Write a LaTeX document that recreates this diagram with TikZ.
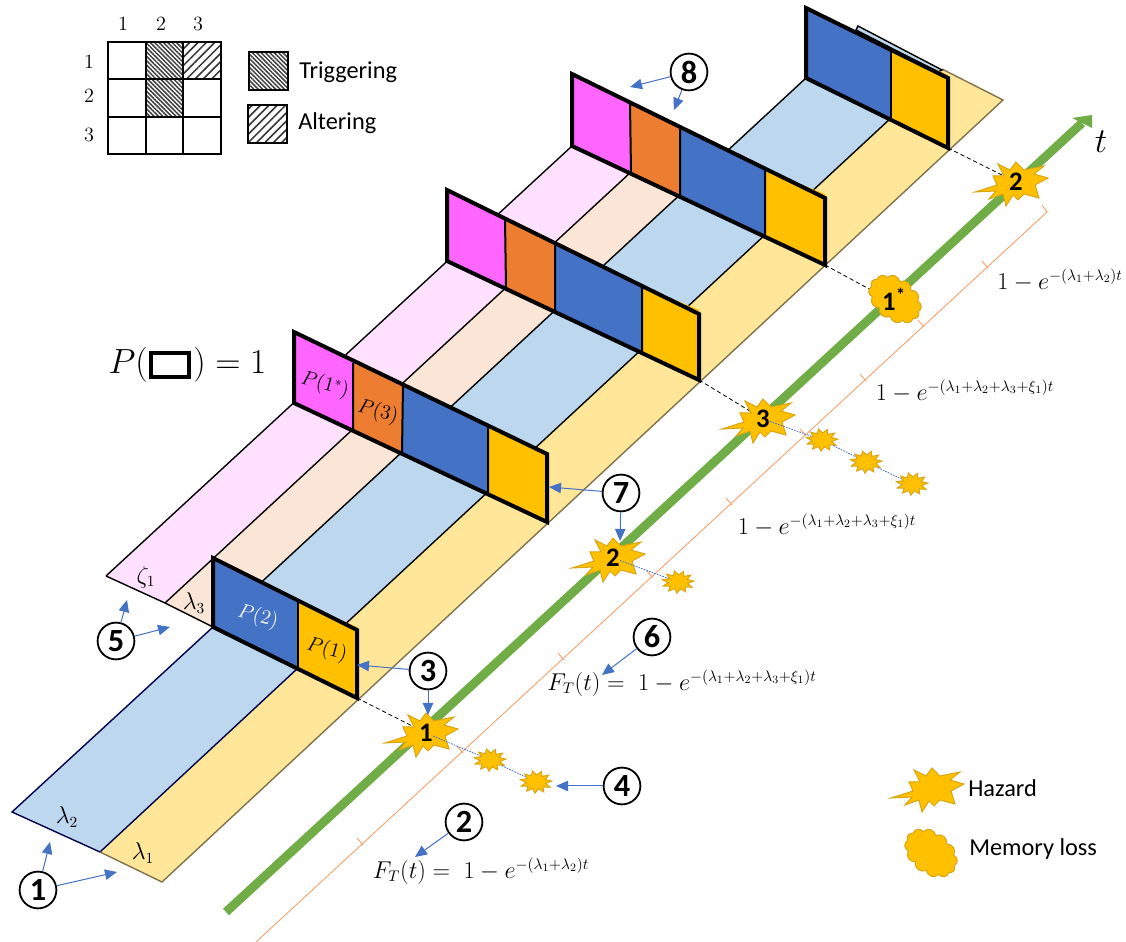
\documentclass[tikz,border=0pt]{standalone}
\usepackage{fontspec}
\setmainfont{Carlito}
\usetikzlibrary{arrows.meta,patterns.meta,shapes.geometric,shapes.symbols}

% colours of the floor bands and of the walls
\definecolor{floorblue}{HTML}{BDD7EE}
\definecolor{flooryellow}{HTML}{FFE699}
\definecolor{floorpink}{HTML}{FFE1FF}
\definecolor{floororange}{HTML}{FBE5D6}
\definecolor{wallblue}{HTML}{4472C4}
\definecolor{wallyellow}{HTML}{FFC000}
\definecolor{wallpink}{HTML}{FF66FF}
\definecolor{wallorange}{HTML}{ED7D31}
\definecolor{axisgreen}{HTML}{70AD47}
\definecolor{bracketorange}{HTML}{F4A878}
\definecolor{hazardedge}{HTML}{D9A514}

\tikzset{
  frameline/.style={line width=1mm, line join=miter},
  divline/.style={line width=0.5mm},
  bandline/.style={line width=0.35mm},
  pointer/.style={draw=wallblue, line width=0.25mm, -{Triangle[length=3mm,width=2.6mm,fill=wallblue]}},
  badge/.style={circle, draw, line width=0.45mm, fill=white, minimum size=9.2mm, inner sep=0pt, font=\fontsize{23}{23}\selectfont\bfseries},
  spark/.style={star, star points=11, star point ratio=1.6, draw=hazardedge, fill=wallyellow, line width=0.25mm, minimum size=6.6mm, inner sep=0pt, xscale=1.2, yscale=0.85, rotate=-20},
  lossline/.style={draw=wallblue, line width=0.2mm, dash pattern=on 1.2pt off 0.8pt},
  timeline/.style={draw=black, line width=0.2mm, dash pattern=on 3pt off 2pt},
  hazardnum/.style={font=\fontsize{19}{19}\selectfont\bfseries, inner sep=0pt},
  hazard/.pic={
    \filldraw[draw=hazardedge, fill=wallyellow, line width=0.25mm]
      (-41,10) -- (-19,3) -- (-23,-6) -- (-12,-6) -- (-18,-18) -- (-6,-12) -- (0,-20) -- (8,-12)
      -- (28,-16) -- (18,-8) -- (32,-4) -- (19,3) -- (23,16) -- (8,12) -- (2,18) -- (-3,13)
      -- (-10,24) -- (-13,12) -- (-27,17) -- (-20,9) -- cycle;
  },
  memcloud/.style={cloud, cloud puffs=12, cloud puff arc=125, aspect=1.6, draw=hazardedge, fill=wallyellow, line width=0.25mm, minimum width=14.5mm, minimum height=10.5mm, inner sep=0pt, rotate=-38},
  mathlabel/.style={font=\fontsize{16}{18}\selectfont, inner sep=0pt},
  celllabel/.style={font=\fontsize{14.5}{16}\selectfont, inner sep=0pt, rotate=-15},
  gridlabel/.style={font=\fontsize{15}{15}\selectfont, inner sep=0pt},
  legendlabel/.style={font=\fontsize{17.3}{17}\selectfont, anchor=west, inner sep=0pt},
  trighatch/.style={pattern={Lines[angle=-45,distance=2.2pt,line width=1.1pt]}, pattern color=black!75},
  althatch/.style={pattern={Lines[angle=45,distance=4.2pt,line width=1.1pt]}, pattern color=black!80},
}

\begin{document}
\begin{tikzpicture}[x=0.25mm, y=-0.25mm]
  \useasboundingbox (0,0) rectangle (1126,942);

  % floor bands
  \fill[floorpink] (106,576) -- (165,603) -- (631,172) -- (572,146) -- cycle;
  \fill[floororange] (165,603) -- (213,627) -- (680,195) -- (631,172) -- cycle;
  \fill[floorblue] (12,812) -- (100,852) -- (891,118) -- (806,78) -- cycle;
  \fill[flooryellow] (100,852) -- (162,882) -- (1003,100) -- (942,69) -- (891,118) -- cycle;

  % band edges
  \draw[bandline] (106,576) -- (572,146);
  \draw[bandline] (106,576) -- (165,603) -- (213,627);
  \draw[bandline] (165,603) -- (631,172);
  \draw[bandline] (213,627) -- (806,78);
  \draw[bandline] (298,668) -- (891,118);
  \draw[bandline, draw=blue!30!black] (213,627) -- (12,812) -- (100,852) -- (298,668);
  \draw[bandline, draw=flooryellow!50!black] (100,852) -- (162,882) -- (1003,100) -- (942,69);

  % time axis
  \draw[axisgreen, line width=2.2mm] (226,912) -- (1082,123);
  \fill[axisgreen] (1072,118) -- (1092,115) -- (1092,128) -- cycle;

  % bracket line and its ticks
  \draw[bracketorange, line width=0.25mm] (256,942) -- (1047,212) -- (1042,205);
  \foreach \tx/\ty in {362/844,462/752,563/659,652/577,731/504,805/435,865/380,923/326,987/267} {
    \draw[bracketorange, line width=0.25mm] (\tx-5,\ty-6) -- (\tx+1,\ty+1);
  }

  % wall at the far end, with the strip behind it
  \filldraw[fill=floorblue, bandline] (856,30) -- (858,26) -- (942,70) -- (938,72) -- cycle;
  \fill[wallblue] (806,8) -- (891,50) -- (891,118) -- (806,78) -- cycle;
  \fill[wallyellow] (891,50) -- (948,75) -- (948,148) -- (891,118) -- cycle;
  \draw[divline] (891,50) -- (891,118);
  \draw[frameline] (806,8) -- (948,78) -- (948,148) -- (806,78) -- cycle;

  % wall 4
  \fill[wallpink] (572,74) -- (630,103) -- (631,172) -- (572,146) -- cycle;
  \fill[wallorange] (630,103) -- (680,128) -- (680,195) -- (631,172) -- cycle;
  \fill[wallblue] (680,128) -- (765,170) -- (765,236) -- (680,195) -- cycle;
  \fill[wallyellow] (765,170) -- (825,194) -- (825,265) -- (765,236) -- cycle;
  \draw[divline] (630,103) -- (631,172) (680,128) -- (680,195) (765,170) -- (765,236);
  \draw[frameline] (572,74) -- (825,198) -- (825,265) -- (572,146) -- cycle;

  % wall 3
  \fill[wallpink] (447,190) -- (505,220) -- (506,287) -- (447,261) -- cycle;
  \fill[wallorange] (505,220) -- (555,242) -- (555,312) -- (506,287) -- cycle;
  \fill[wallblue] (555,242) -- (642,286) -- (642,352) -- (555,312) -- cycle;
  \fill[wallyellow] (642,286) -- (699,310) -- (699,380) -- (642,352) -- cycle;
  \draw[divline] (505,220) -- (506,287) (555,242) -- (555,312) (642,286) -- (642,352);
  \draw[frameline] (447,190) -- (699,314) -- (699,380) -- (447,261) -- cycle;

  % wall 2
  \fill[wallpink] (294,332) -- (353,363) -- (353,429) -- (294,403) -- cycle;
  \fill[wallorange] (353,363) -- (403,385) -- (402,453) -- (353,429) -- cycle;
  \fill[wallblue] (403,385) -- (488,427) -- (488,494) -- (402,453) -- cycle;
  \fill[wallyellow] (488,427) -- (547,452) -- (547,522) -- (488,494) -- cycle;
  \draw[divline] (353,363) -- (353,429) (403,385) -- (402,453) (488,427) -- (488,494);
  \draw[frameline] (294,332) -- (547,454) -- (547,522) -- (294,403) -- cycle;

  % wall 1
  \fill[wallblue] (213,558) -- (298,602) -- (298,668) -- (213,627) -- cycle;
  \fill[wallyellow] (298,602) -- (357,627) -- (357,698) -- (298,668) -- cycle;
  \draw[divline] (298,602) -- (298,668);
  \draw[frameline] (213,558) -- (357,630) -- (357,698) -- (213,627) -- cycle;

  % hazards on the axis
  \coordinate (wall1end) at (357,698);
  \coordinate (wall3end) at (699,380);
  \coordinate (wall4end) at (825,265);
  \coordinate (wall5end) at (948,148);
  \draw[timeline] (wall1end) -- (426,733);
  \draw[timeline] (wall3end) -- (763,419);
  \draw[timeline] (wall4end) -- (893,302);
  \draw[timeline] (wall5end) -- (1016,182);

  \node[spark] (lossa) at (490,760) {};
  \node[spark] (lossb) at (536,782) {};
  \node[spark] (lossc) at (678,582) {};
  \node[spark] (lossd) at (822,440) {};
  \node[spark] (losse) at (866,462) {};
  \node[spark] (lossf) at (912,484) {};

  \pic at (426,733) {hazard};
  \pic at (613,558) {hazard};
  \pic at (763,419) {hazard};
  \pic at (1016,182) {hazard};
  \node[hazardnum] (hazarda) at (426,733) {1};
  \node[hazardnum] (hazardb) at (613,558) {2};
  \node[hazardnum] (hazardc) at (763,419) {3};
  \node[hazardnum] (hazarde) at (1016,182) {2};
  \node[memcloud] (memory) at (895,299) {};
  \node[hazardnum] (hazardd) at (894,299) {1\textsuperscript{*}};

  \draw[lossline] (hazarda) -- (lossa) -- (lossb);
  \draw[lossline] (hazardb) -- (lossc);
  \draw[lossline] (hazardc) -- (lossd) -- (losse) -- (lossf);

  % labels on the walls and on the floor
  \node[celllabel, text=white] (ptwo) at (258,617) {$P(2)$};
  \node[celllabel] (pone) at (327,650) {$P(1)$};
  \node[celllabel] (ponestar) at (325,385) {$P(1^{*})$};
  \node[celllabel] (pthree) at (378,412) {$P(3)$};
  \node[mathlabel] (zetaone) at (146,577) {$\zeta_1$};
  \node[mathlabel] (lamthree) at (194,603) {$\lambda_3$};
  \node[mathlabel] (lamtwo) at (67,817) {$\lambda_2$};
  \node[mathlabel] (lamone) at (143,853) {$\lambda_1$};

  % formulas
  \node[mathlabel] (forma) at (481,871) {$F_T(t)=\;1-e^{-(\lambda_1+\lambda_2)t}$};
  \node[mathlabel] (formb) at (682,683) {$F_T(t)=\;1-e^{-(\lambda_1+\lambda_2+\lambda_3+\xi_1)t}$};
  \node[mathlabel] (formc) at (827,525) {$1-e^{-(\lambda_1+\lambda_2+\lambda_3+\xi_1)t}$};
  \node[mathlabel] (formd) at (965,391) {$1-e^{-(\lambda_1+\lambda_2+\lambda_3+\xi_1)t}$};
  \node[mathlabel] (forme) at (1060,280) {$1-e^{-(\lambda_1+\lambda_2)t}$};
  \node[inner sep=0pt, font=\fontsize{26}{26}\selectfont] (tlabel) at (1101,142) {$t$};

  % P(box) = 1
  \node[anchor=east, inner sep=0pt, font=\fontsize{25}{25}\selectfont] (plabel) at (148,365) {$P($};
  \node[draw, line width=1mm, minimum width=9.5mm, minimum height=6mm, inner sep=0pt] (pbox) at (170,365) {};
  \node[anchor=west, inner sep=0pt, font=\fontsize{25}{25}\selectfont] (pvalue) at (193,365) {$)=1$};

  % numbered badges and their pointers
  \node[badge] (bone) at (38,890) {1};
  \node[badge] (btwo) at (464,822) {2};
  \node[badge] (bthree) at (428,671) {3};
  \node[badge] (bfour) at (622,786) {4};
  \node[badge] (bfive) at (116,641) {5};
  \node[badge] (bsix) at (652,637) {6};
  \node[badge] (bseven) at (621,493) {7};
  \node[badge] (beight) at (689,72) {8};
  \coordinate (onea) at (50,842);
  \coordinate (oneb) at (117,872);
  \coordinate (twoa) at (415,857);
  \coordinate (threea) at (357,665);
  \coordinate (threeb) at (428,715);
  \coordinate (foura) at (556,786);
  \coordinate (fivea) at (127,600);
  \coordinate (fiveb) at (170,627);
  \coordinate (sixa) at (602,675);
  \coordinate (sevena) at (549,487);
  \coordinate (sevenb) at (620,541);
  \coordinate (eighta) at (630,87);
  \coordinate (eightb) at (674,110);
  \draw[pointer] (bone) -- (onea);
  \draw[pointer] (bone) -- (oneb);
  \draw[pointer] (btwo) -- (twoa);
  \draw[pointer] (bthree) -- (threea);
  \draw[pointer] (bthree) -- (threeb);
  \draw[pointer] (bfour) -- (foura);
  \draw[pointer] (bfive) -- (fivea);
  \draw[pointer] (bfive) -- (fiveb);
  \draw[pointer] (bsix) -- (sixa);
  \draw[pointer] (bseven) -- (sevena);
  \draw[pointer] (bseven) -- (sevenb);
  \draw[pointer] (beight) -- (eighta);
  \draw[pointer] (beight) -- (eightb);

  % matrix in the corner
  \fill[trighatch] (145,42) rectangle (183,116);
  \fill[althatch] (183,42) rectangle (221,79);
  \foreach \row in {0,1,2} {
    \foreach \col in {0,1,2} {
      \draw[line width=0.5mm] (108+\col*37.7,42+\row*37.3) rectangle (108+\col*37.7+37.7,42+\row*37.3+37.3);
    }
  }
  \node[gridlabel] (topa) at (123,24) {$1$};
  \node[gridlabel] (topb) at (161,24) {$2$};
  \node[gridlabel] (topc) at (198,24) {$3$};
  \node[gridlabel] (sidea) at (89,62) {$1$};
  \node[gridlabel] (sideb) at (89,96) {$2$};
  \node[gridlabel] (sidec) at (89,135) {$3$};

  % legends
  \filldraw[trighatch, draw=black, line width=0.6mm] (249,52) rectangle (288,90);
  \filldraw[althatch, draw=black, line width=0.6mm] (248,105) rectangle (287,143);
  \node[legendlabel] (trigtext) at (299,72) {Triggering};
  \node[legendlabel] (alttext) at (298,123) {Altering};
  \pic at (932,788) {hazard};
  \node[memcloud] (legcloud) at (931,853) {};
  \node[legendlabel] (hazardtext) at (968,788) {Hazard};
  \node[legendlabel] (memtext) at (969,849) {Memory loss};
\end{tikzpicture}
\end{document}
